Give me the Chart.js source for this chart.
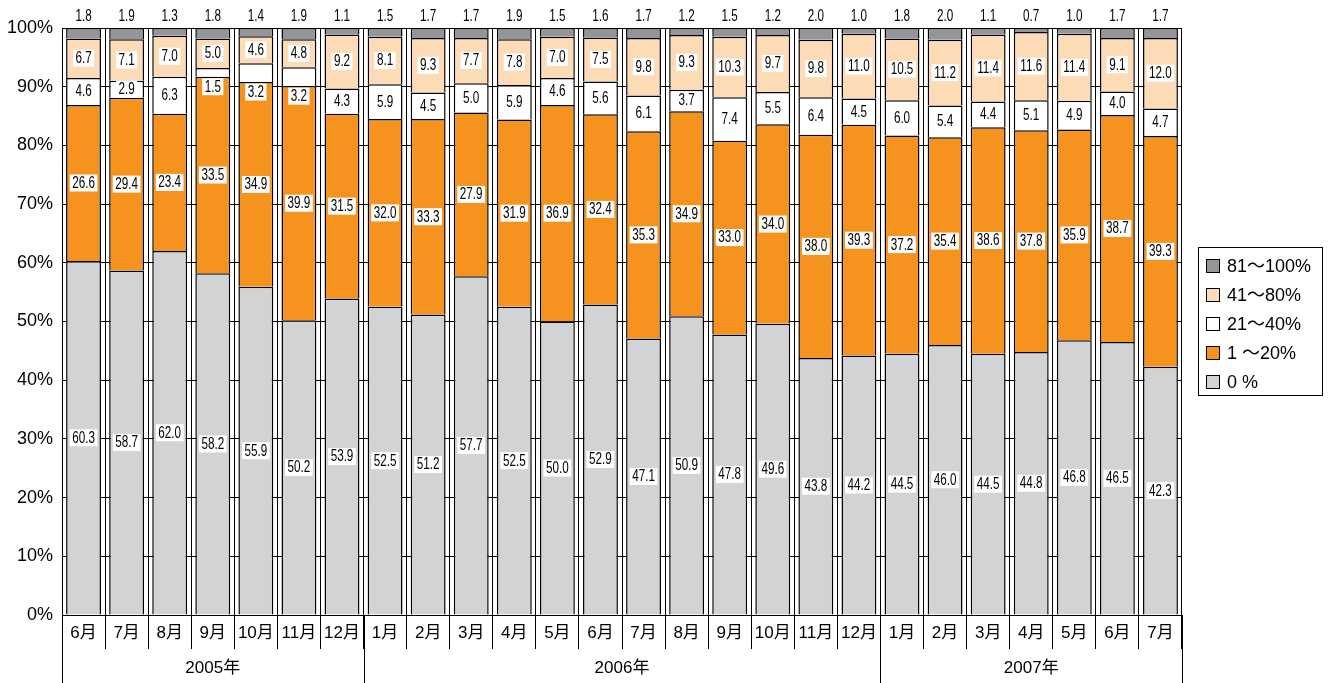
<!DOCTYPE html>
<html>
<head>
<meta charset="utf-8">
<script src="https://cdn.jsdelivr.net/npm/chart.js@4.4.1/dist/chart.umd.min.js"></script>
<style>
body{margin:0;background:#fff;}
#wrap{position:relative;width:1330px;height:683px;}
#legend{position:absolute;left:1198px;top:247px;width:125px;height:149px;border:1px solid #000;box-sizing:border-box;padding-top:4px;
  font:18px "Liberation Sans","Noto Sans CJK JP",sans-serif;color:#000;}
#legend div{height:29px;line-height:29px;position:relative;padding-left:28px;white-space:nowrap;}
#legend span{position:absolute;left:7px;top:7px;width:14px;height:14px;border:1px solid #000;box-sizing:border-box;}
</style>
</head>
<body>
<div id="wrap">
  <canvas id="chart"></canvas>
  <div id="legend"></div>
</div>
<script>
// --- DATI ---
const months = ['6月','7月','8月','9月','10月','11月','12月',
  '1月','2月','3月','4月','5月','6月','7月','8月','9月','10月','11月','12月',
  '1月','2月','3月','4月','5月','6月','7月'];
const years = ['2005年','2006年','2007年'];
const yearSpans = [7, 12, 7];
const yTicks = [0,10,20,30,40,50,60,70,80,90,100];

const zero = [60.3,58.7,62.0,58.2,55.9,50.2,53.9,52.5,51.2,57.7,52.5,50.0,52.9,47.1,50.9,47.8,49.6,43.8,44.2,44.5,46.0,44.5,44.8,46.8,46.5,42.3];
const p1to20 = [26.6,29.4,23.4,33.5,34.9,39.9,31.5,32.0,33.3,27.9,31.9,36.9,32.4,35.3,34.9,33.0,34.0,38.0,39.3,37.2,35.4,38.6,37.8,35.9,38.7,39.3];
const p21to40 = [4.6,2.9,6.3,1.5,3.2,3.2,4.3,5.9,4.5,5.0,5.9,4.6,5.6,6.1,3.7,7.4,5.5,6.4,4.5,6.0,5.4,4.4,5.1,4.9,4.0,4.7];
const p41to80 = [6.7,7.1,7.0,5.0,4.6,4.8,9.2,8.1,9.3,7.7,7.8,7.0,7.5,9.8,9.3,10.3,9.7,9.8,11.0,10.5,11.2,11.4,11.6,11.4,9.1,12.0];
const p81to100 = [1.8,1.9,1.3,1.8,1.4,1.9,1.1,1.5,1.7,1.7,1.9,1.5,1.6,1.7,1.2,1.5,1.2,2.0,1.0,1.8,2.0,1.1,0.7,1.0,1.7,1.7];

const seriesNames = ['0 %','1 ～20%','21～40%','41～80%','81～100%'];
const seriesColors = ['#d1d3d4','#f6921e','#ffffff','#fddbb6','#939598'];
const seriesData = [zero, p1to20, p21to40, p41to80, p81to100];

const FONT = '"Liberation Sans","Noto Sans CJK JP",sans-serif';
const SQUEEZE = 0.73;

// legenda html (ordine inverso)
const legendEl = document.getElementById('legend');
legendEl.innerHTML = seriesNames.map((n,i)=>`<div><span style="background:${seriesColors[i]}"></span>${n}</div>`).reverse().join('');

// testo stretto (tipo Helvetica Condensed)
function narrowText(ctx, txt, x, y){
  ctx.save();
  ctx.translate(x, y);
  ctx.scale(SQUEEZE, 1);
  ctx.fillText(txt, 0, 0);
  ctx.restore();
}

// etichette dei segmenti
const segLabels = {
  id:'segLabels',
  afterDatasetsDraw(chart){
    const ctx = chart.ctx;
    ctx.save();
    ctx.font = '16px "Liberation Sans",sans-serif';
    ctx.textAlign = 'center';
    ctx.textBaseline = 'middle';
    const metas = chart.data.datasets.map((d,i)=>chart.getDatasetMeta(i));
    chart.data.datasets.forEach((ds, di) => {
      metas[di].data.forEach((bar, i) => {
        const txt = ds.data[i].toFixed(1);
        if(di === 4){
          ctx.fillStyle = '#000';
          narrowText(ctx, txt, bar.x, chart.chartArea.top - 11);
          return;
        }
        let y = (bar.y + bar.base) / 2;
        if(di === 2){
          const above = metas[3].data[i];
          const ya = (above.y + above.base) / 2;
          if(y - ya < 25) y = bar.base + 10;
        }
        const w = ctx.measureText(txt).width * SQUEEZE + 5;
        ctx.fillStyle = '#fff';
        ctx.fillRect(bar.x - w/2, y - 8.5, w, 17);
        ctx.fillStyle = '#000';
        narrowText(ctx, txt, bar.x, y + 0.5);
      });
    });
    ctx.restore();
  }
};

// righe degli anni sotto l'asse
const yearAxis = {
  id:'yearAxis',
  afterDraw(chart){
    const ctx = chart.ctx, x = chart.scales.x, area = chart.chartArea;
    const half = (x.getPixelForValue(1) - x.getPixelForValue(0)) / 2;
    ctx.save();
    ctx.strokeStyle = '#000';
    ctx.lineWidth = 1;
    ctx.fillStyle = '#000';
    ctx.font = '17px ' + FONT;
    ctx.textAlign = 'center';
    ctx.textBaseline = 'middle';
    let start = 0;
    const edges = [0];
    yearSpans.forEach((n, k) => {
      const l = x.getPixelForValue(start) - half;
      const r = x.getPixelForValue(start + n - 1) + half;
      ctx.fillText(years[k], (l + r) / 2, 668);
      start += n;
      edges.push(start);
    });
    edges.forEach(e => {
      const px = Math.round(x.getPixelForValue(Math.min(e, months.length-1)) + (e >= months.length ? half : -half)) + 0.5;
      ctx.beginPath();
      ctx.moveTo(px, area.bottom);
      ctx.lineTo(px, 683);
      ctx.stroke();
    });
    ctx.restore();
  }
};

new Chart(document.getElementById('chart'), {
  type:'bar',
  data:{
    labels: months,
    datasets: seriesData.map((d,i)=>({
      label: seriesNames[i],
      data: d,
      backgroundColor: seriesColors[i],
      borderColor: '#000',
      borderWidth: { left:1.5, right:1.5, top:1.5, bottom:0 },
      borderSkipped: false,
      barPercentage: 0.81,
      categoryPercentage: 1
    }))
  },
  options:{
    responsive:true,
    maintainAspectRatio:false,
    animation:false,
    layout:{ padding:{ top:28, right:148, left:0, bottom:0 } },
    plugins:{ legend:{ display:false }, tooltip:{ enabled:false } },
    scales:{
      x:{
        stacked:true,
        afterFit: s => { s.height = 68; },
        grid:{ color:'#000', lineWidth:1, offset:true, tickLength:34 },
        border:{ color:'#000', width:1 },
        ticks:{ color:'#000', font:{ size:17, family:FONT }, padding:-26, maxRotation:0, autoSkip:false }
      },
      y:{
        stacked:true,
        min:0, max:100,
        afterFit: s => { s.width = 62; },
        afterBuildTicks: s => { s.ticks = yTicks.map(v => ({ value:v })); },
        grid:{ color:'#000', lineWidth:1, drawTicks:false },
        border:{ color:'#000', width:1 },
        ticks:{ color:'#000', font:{ size:18, family:FONT }, padding:9, callback: v => v + '%' }
      }
    }
  },
  plugins:[segLabels, yearAxis]
});
</script>
</body>
</html>
